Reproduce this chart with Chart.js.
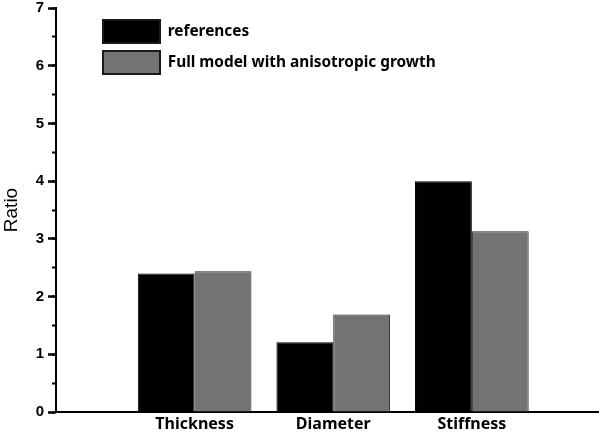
<!DOCTYPE html>
<html>
<head>
<meta charset="utf-8">
<script src="https://cdn.jsdelivr.net/npm/chart.js@4.4.1/dist/chart.umd.min.js"></script>
<style>
  html, body { margin: 0; padding: 0; background: #fff; }
  #wrap { width: 600px; height: 434px; }
</style>
</head>
<body>
<div id="wrap"><canvas id="chart"></canvas></div>
<script>
var categories = ['Thickness', 'Diameter', 'Stiffness'];
var categoryPos = [1, 2, 3];
var references = [2.40, 1.21, 4.00];
var fullModel = [2.44, 1.69, 3.13];
var seriesNames = ['references', 'Full model with anisotropic growth'];

function toPoints(values) {
  var pts = [];
  for (i = 0; i < values.length; i++) {
    pts.push({ x: categoryPos[i], y: values[i] });
  }
  return pts;
}

// move the legend into the upper left of the plot
var legendSpot = {
  id: 'legendSpot',
  afterLayout: function(chart) {
    var lg = chart.legend;
    var w = lg.width, h = lg.height;
    lg.left = 95; lg.top = 12;
    lg.right = lg.left + w; lg.bottom = lg.top + h;
  }
};

var ctx = document.getElementById('chart');
var myChart = new Chart(ctx, {
  type: 'bar',
  data: {
    datasets: [{
      label: seriesNames[0],
      data: toPoints(references),
      backgroundColor: '#000000',
      borderColor: '#000000',
      borderWidth: 1
    }, {
      label: seriesNames[1],
      data: toPoints(fullModel),
      backgroundColor: '#737373',
      borderColor: '#262626',
      borderWidth: 1
    }]
  },
  plugins: [legendSpot],
  options: {
    responsive: true,
    maintainAspectRatio: false,
    animation: false,
    categoryPercentage: 0.82,
    barPercentage: 1,
    layout: { padding: { top: 8, right: 2, left: 0, bottom: 0 } },
    plugins: {
      tooltip: { enabled: false },
      legend: {
        position: 'chartArea',
        align: 'start',
        labels: {
          boxWidth: 57,
          boxHeight: 23,
          padding: 8,
          color: '#000',
          font: { family: 'Noto Sans', size: 15.4, weight: 'bold' },
          generateLabels: function(chart) {
            var items = Chart.defaults.plugins.legend.labels.generateLabels(chart);
            items.forEach(function(it) { it.lineWidth = 2; it.strokeStyle = '#1a1a1a'; });
            return items;
          }
        }
      }
    },
    scales: {
      x: {
        type: 'linear',
        min: 0,
        max: 3.91,
        offset: false,
        grid: { display: false, drawTicks: false, offset: false },
        border: { display: true, color: '#000', width: 2 },
        afterBuildTicks: function(scale) {
          scale.ticks = categoryPos.map(function(v) { return { value: v }; });
        },
        afterFit: function(scale) {
          scale.height = 22;
          scale.paddingLeft = 0; scale.paddingRight = 0;
        },
        ticks: {
          autoSkip: false,
          maxRotation: 0,
          padding: 3,
          color: '#000',
          font: { family: 'Noto Sans', size: 16, weight: 'bold' },
          callback: function(v) {
            var k = categoryPos.indexOf(v);
            return k >= 0 ? categories[k] : '';
          }
        }
      },
      y: {
        min: 0,
        max: 7,
        weight: 1,
        border: { display: true, color: '#000', width: 2 },
        grid: {
          display: true,
          drawOnChartArea: false,
          tickLength: 8,
          tickWidth: 2.5,
          tickColor: '#000'
        },
        afterFit: function(scale) {
          scale.width = 56;
          scale.paddingTop = 0; scale.paddingBottom = 0;
        },
        ticks: {
          stepSize: 1,
          padding: 4,
          color: '#000',
          font: { family: 'Liberation Sans', size: 15, weight: 'bold' }
        },
        title: {
          display: true,
          text: 'Ratio',
          color: '#000',
          padding: 0,
          font: { family: 'Liberation Sans', size: 19 }
        }
      },
      // minor ticks only
      yMinor: {
        position: 'left',
        min: 0,
        max: 7,
        weight: 0,
        border: { display: false },
        grid: {
          display: true,
          drawOnChartArea: false,
          tickLength: 4,
          tickWidth: 2,
          tickColor: '#000'
        },
        afterFit: function(scale) {
          scale.width = 0;
          scale.paddingTop = 0; scale.paddingBottom = 0;
        },
        ticks: { stepSize: 0.5, display: false }
      }
    }
  }
});
</script>
</body>
</html>
